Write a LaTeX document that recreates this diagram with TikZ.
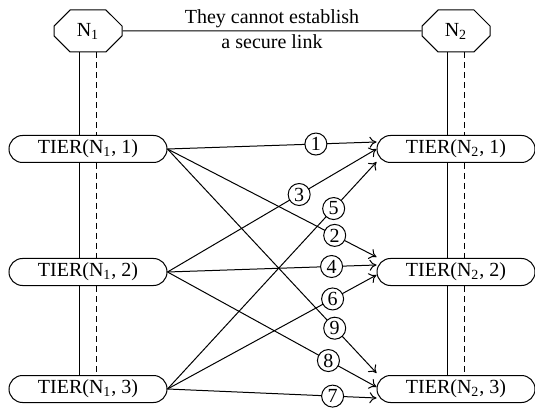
\documentclass[tikz,border=0pt]{standalone}
\usepackage{fontspec}
\setmainfont{Liberation Serif}
\usetikzlibrary{shapes.misc,arrows.meta,positioning}

\begin{document}
\begin{tikzpicture}[x=0.5pt, y=-0.5pt, >={To[length=3.5pt,width=5.5pt]}, line width=0.5pt,
    tier/.style={rounded rectangle, draw, minimum width=79pt, minimum height=13.5pt, inner sep=0pt},
    hub/.style={chamfered rectangle, draw, minimum width=34pt, minimum height=21pt, chamfered rectangle xsep=6pt, chamfered rectangle ysep=4pt, inner sep=0pt},
    num/.style={circle, draw, fill=white, inner sep=0pt, minimum size=11pt},
    link/.style={->}]
            \useasboundingbox (0,0) rectangle (535,411);
            \node[hub] (N1) at (88,31) {N\textsubscript{1}};
            \node[hub] (N2) at (456,31) {N\textsubscript{2}};
            \node[tier] (L1) at (88,149) {TIER(N\textsubscript{1}, 1)};
            \node[tier] (L2) at (88,272) {TIER(N\textsubscript{1}, 2)};
            \node[tier] (L3) at (88,389) {TIER(N\textsubscript{1}, 3)};
            \node[tier] (R1) at (456,149) {TIER(N\textsubscript{2}, 1)};
            \node[tier] (R2) at (456,272) {TIER(N\textsubscript{2}, 2)};
            \node[tier] (R3) at (456,389) {TIER(N\textsubscript{2}, 3)};
            \draw (N1) -- node[above,inner sep=1.5pt] {They cannot establish} node[below,inner sep=1.5pt] {a secure link} (N2);
            % solid and dashed rails under each hub
            \draw ([xshift=-4.25pt]N1.south) -- ([xshift=-4.25pt]L1.north);
            \draw ([xshift=-4.25pt]L1.south) -- ([xshift=-4.25pt]L2.north);
            \draw ([xshift=-4.25pt]L2.south) -- ([xshift=-4.25pt]L3.north);
            \draw[dash pattern=on 3pt off 2pt] ([xshift=4.25pt]N1.south) -- ([xshift=4.25pt]L1.north);
            \draw[dash pattern=on 3pt off 2pt] ([xshift=4.25pt]L1.south) -- ([xshift=4.25pt]L2.north);
            \draw[dash pattern=on 3pt off 2pt] ([xshift=4.25pt]L2.south) -- ([xshift=4.25pt]L3.north);
            \draw ([xshift=-4.25pt]N2.south) -- ([xshift=-4.25pt]R1.north);
            \draw ([xshift=-4.25pt]R1.south) -- ([xshift=-4.25pt]R2.north);
            \draw ([xshift=-4.25pt]R2.south) -- ([xshift=-4.25pt]R3.north);
            \draw[dash pattern=on 3pt off 2pt] ([xshift=4.25pt]N2.south) -- ([xshift=4.25pt]R1.north);
            \draw[dash pattern=on 3pt off 2pt] ([xshift=4.25pt]R1.south) -- ([xshift=4.25pt]R2.north);
            \draw[dash pattern=on 3pt off 2pt] ([xshift=4.25pt]R2.south) -- ([xshift=4.25pt]R3.north);
            % tier to tier links
            \draw[link] (L1.east) -- node[num,pos=0.71] {1} ([yshift=3.5pt]R1.west);
            \draw[link] (L1.east) -- node[num,pos=0.8] {2} ([yshift=7.5pt]R2.west);
            \draw[link] (L2.east) -- node[num,pos=0.63] {3} (R1.west);
            \draw[link] (L2.east) -- node[num,pos=0.785] {4} ([yshift=3.5pt]R2.west);
            \draw[link] (L3.east) -- node[num,pos=0.795] {5} ([yshift=-6.5pt]R1.west);
            \draw[link] (L3.east) -- node[num,pos=0.79] {6} ([yshift=-1.5pt]R2.west);
            \draw[link] (L3.east) -- node[num,pos=0.79] {7} ([yshift=-4.5pt]R3.west);
            \draw[link] (L2.east) -- node[num,pos=0.77] {8} ([yshift=1pt]R3.west);
            \draw[link] (L1.east) -- node[num,pos=0.8] {9} ([yshift=8pt]R3.west);
        \end{tikzpicture}
\end{document}
